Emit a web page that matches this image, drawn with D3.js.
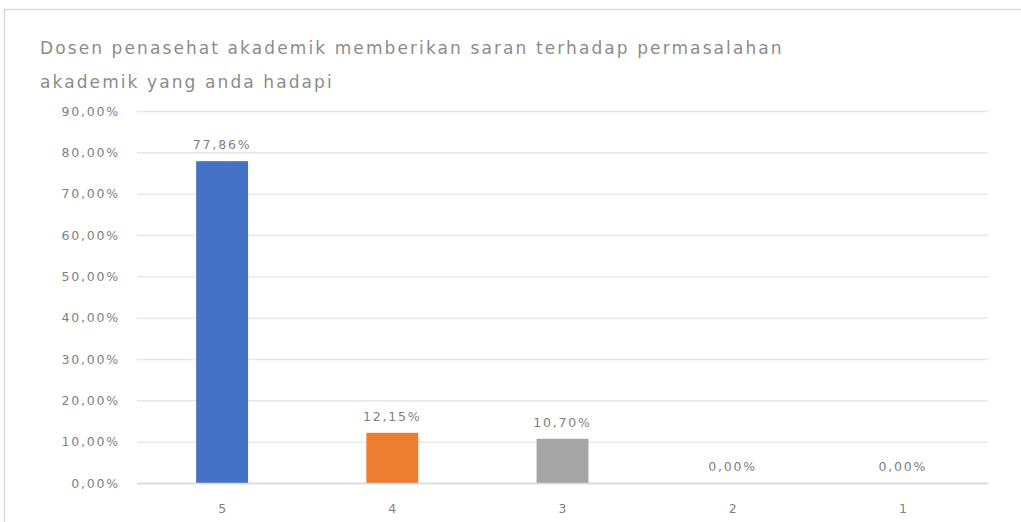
<!DOCTYPE html>
<html>
<head>
<meta charset="utf-8">
<script src="https://cdn.jsdelivr.net/npm/d3@7"></script>
<style>
  html, body { margin: 0; padding: 0; background: #fff; }
  svg { display: block; font-family: "DejaVu Sans", "Liberation Sans", sans-serif; }
</style>
</head>
<body>
<svg id="chart" width="1021" height="522"></svg>
<script>
// Survey answer scale (5 = strongly agree ... 1 = strongly disagree)
const categories = ["5", "4", "3", "2", "1"];
const percentages = [77.86, 12.15, 10.70, 0.00, 0.00];
const barColors = ["#4472c4", "#ed7d31", "#a5a5a5", "#ffc000", "#5b9bd5"];
const yTicks = [0, 10, 20, 30, 40, 50, 60, 70, 80, 90];
const titleLines = [
  "Dosen penasehat akademik memberikan saran terhadap permasalahan",
  "akademik yang anda hadapi"
];

const svg = d3.select("#chart");
const fmt = v => v.toFixed(2).replace(".", ",") + "%";
const textColor = "#7f7f7f";

// chart frame
svg.append("rect")
  .attr("x", 4.5).attr("y", 9.5)
  .attr("width", 1100).attr("height", 600)
  .attr("fill", "#fff")
  .attr("stroke", "#d9d9d9").attr("stroke-width", 1.5);

// title
svg.append("g").selectAll("text")
  .data(titleLines)
  .join("text")
  .attr("x", 40)
  .attr("y", (d, i) => 54 + i * 34)
  .attr("font-size", 17)
  .attr("letter-spacing", 2.1)
  .attr("fill", "#8c8c8c")
  .text(d => d);

const plot = { left: 137, right: 988, top: 111, bottom: 483 };

const x = d3.scaleBand()
  .domain(categories)
  .range([plot.left, plot.right])
  .padding(0);

const y = d3.scaleLinear()
  .domain([0, 90])
  .range([plot.bottom, plot.top]);

const barWidth = x.bandwidth() * 0.305;

// gridlines
svg.append("g").selectAll("line")
  .data(yTicks)
  .join("line")
  .attr("x1", plot.left).attr("x2", plot.right)
  .attr("y1", d => y(d) + 0.5).attr("y2", d => y(d) + 0.5)
  .attr("stroke", "#e8e8e8")
  .attr("stroke-width", 1.5);

// y axis labels
const yAxis = d3.axisLeft(y)
  .tickValues(yTicks)
  .tickSize(0)
  .tickPadding(0)
  .tickFormat(d => d.toFixed(2).replace(".", ",") + "%");
const gy = svg.append("g")
  .attr("transform", `translate(${plot.left - 17},0)`)
  .call(yAxis);
gy.select(".domain").remove();
gy.selectAll("text")
  .attr("font-size", 12.5)
  .attr("letter-spacing", 1.8)
  .attr("fill", textColor)
  .attr("font-family", "'DejaVu Sans', sans-serif");

// bars
svg.append("g").selectAll("rect")
  .data(categories.map((c, i) => ({ c, v: percentages[i], color: barColors[i] })))
  .join("rect")
  .attr("x", d => x(d.c) + x.bandwidth() / 2 - barWidth / 2)
  .attr("width", barWidth)
  .attr("y", d => y(d.v))
  .attr("height", d => y(0) - y(d.v))
  .attr("fill", d => d.color);

// value labels
svg.append("g").selectAll("text")
  .data(categories.map((c, i) => ({ c, v: percentages[i] })))
  .join("text")
  .attr("x", d => x(d.c) + x.bandwidth() / 2)
  .attr("y", d => y(d.v) - 12)
  .attr("text-anchor", "middle")
  .attr("font-size", 12.5)
  .attr("letter-spacing", 1.8)
  .attr("fill", textColor)
  .text(d => fmt(d.v));

// x axis
const xAxis = d3.axisBottom(x).tickSize(0).tickPadding(0);
const gx = svg.append("g")
  .attr("transform", `translate(0,${plot.bottom + 30})`)
  .call(xAxis);
gx.select(".domain").remove();
gx.selectAll("text")
  .attr("font-size", 12.5)
  .attr("fill", textColor)
  .attr("dy", 0)
  .attr("font-family", "'DejaVu Sans', sans-serif");

// baseline
svg.append("line")
  .attr("x1", plot.left).attr("x2", plot.right)
  .attr("y1", y(0) + 0.5).attr("y2", y(0) + 0.5)
  .attr("stroke", "#d9d9d9").attr("stroke-width", 1.5);
</script>
</body>
</html>
